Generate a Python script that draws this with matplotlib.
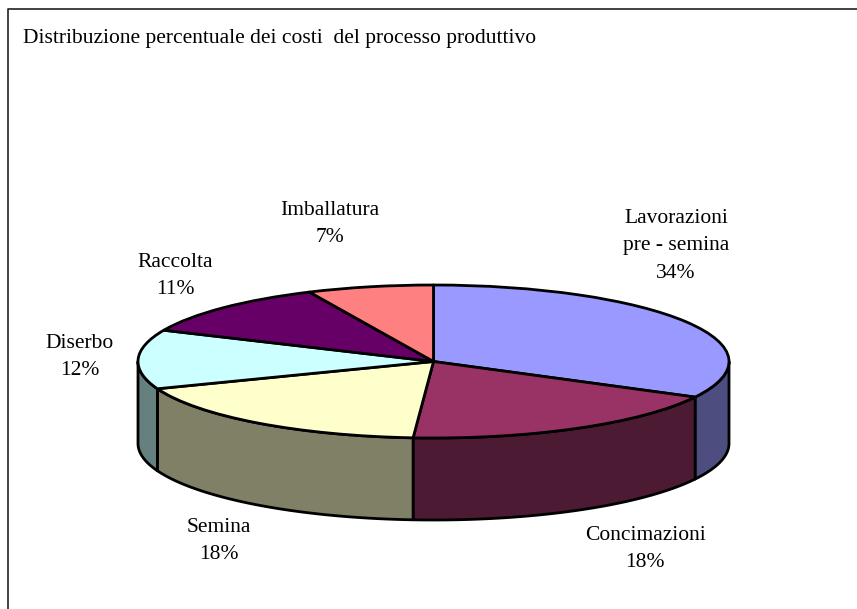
import matplotlib
matplotlib.use("Agg")
import matplotlib.pyplot as plt
from matplotlib.patches import Polygon
from matplotlib.lines import Line2D
import numpy as np

W, H = 857, 609
title = "Distribuzione percentuale dei costi  del processo produttivo"
categories = ["Lavorazioni\npre - semina", "Concimazioni", "Semina", "Diserbo", "Raccolta", "Imballatura"]
label_pct = [34, 18, 18, 12, 11, 7]
drawn_shares = [32.7, 18.4, 18.1, 12.5, 11.4, 6.9]
top_colors = ["#9999FF", "#993366", "#FFFFCC", "#CCFFFF", "#660066", "#FF8080"]
side_colors = ["#4D4D80", "#4D1A33", "#808066", "#668080", "#330033", "#804040"]
label_px = [(676, 246), (645, 549), (219, 541), (80, 357), (175, 276), (330, 224)]

cx, cy, rx, ry, depth = 433.5, 361.5, 295.5, 76.5, 82

plt.rcParams["font.family"] = ["Liberation Serif", "DejaVu Serif"]
fig = plt.figure(figsize=(W / 100, H / 100), dpi=100, facecolor="white")

# frame: top and left only
fig.add_artist(Line2D([8 / W, 8 / W, 1], [0, 1 - 9 / H, 1 - 9 / H], color="#222222", lw=1.2))
fig.text(23 / W, 1 - 38 / H, title, fontsize=15.5, va="center", ha="left", color="black")

# one data unit = rx horizontally and ry vertically
ax = fig.add_axes([(cx - rx) / W, 1 - (cy + ry) / H, 2 * rx / W, 2 * ry / H])
wedges, _ = ax.pie(drawn_shares, colors=top_colors, startangle=90, counterclock=False, radius=1,
                   wedgeprops=dict(edgecolor="black", linewidth=2.0, joinstyle="round"))
ax.set_aspect("auto")
ax.set_xlim(-1, 1)
ax.set_ylim(-1, 1)
for w in wedges:
    w.set_clip_on(False)
    w.set_zorder(3)

d = depth / ry
for w, c in zip(wedges, side_colors):
    t1, t2 = w.theta1 % 360, w.theta2 % 360
    if t2 <= t1:
        t2 += 360
    # parts of each slice on the front half of the rim (180..360 and 540..720)
    for lo, hi in [(180, 360), (540, 720)]:
        a, b = max(t1, lo), min(t2, hi)
        if b <= a:
            continue
        th = np.radians(np.linspace(a, b, 80))
        x, y = np.cos(th), np.sin(th)
        pts = np.r_[np.c_[x, y], np.c_[x[::-1], y[::-1] - d]]
        ax.add_patch(Polygon(pts, closed=True, facecolor=c, edgecolor="black", linewidth=2.0,
                             joinstyle="round", clip_on=False, zorder=2))

for name, pct, (px, py) in zip(categories, label_pct, label_px):
    fig.text(px / W, 1 - py / H, f"{name}\n{pct}%", fontsize=15.5, ha="center", va="center",
             multialignment="center", linespacing=1.62, color="black")

fig.savefig("out.png", dpi=100, facecolor="white")
